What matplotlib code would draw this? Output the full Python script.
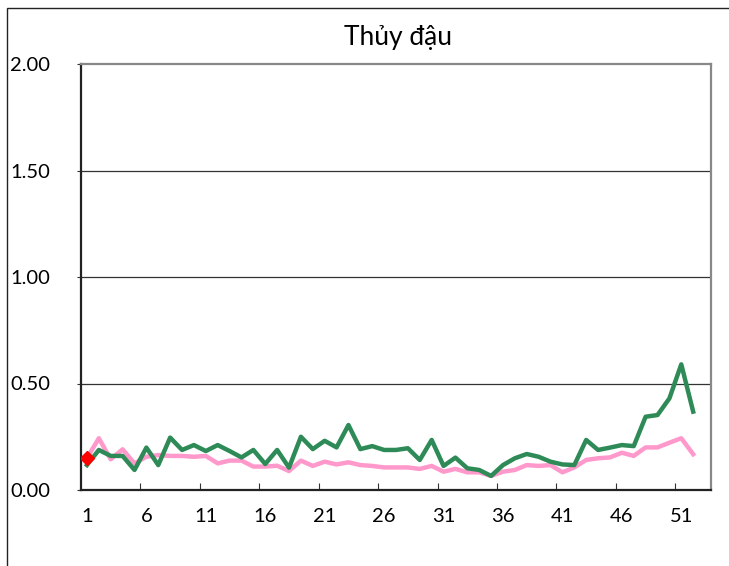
import numpy as np
import matplotlib
matplotlib.use("Agg")
import matplotlib.pyplot as plt
from matplotlib.patches import Rectangle

# tuần 1..52
weeks = np.arange(1, 53)

# năm hiện tại (xanh)
current = [0.117, 0.188, 0.160, 0.160, 0.094, 0.199, 0.117, 0.246, 0.188, 0.211,
           0.183, 0.211, 0.183, 0.153, 0.188, 0.122, 0.188, 0.105, 0.250, 0.192,
           0.231, 0.200, 0.305, 0.192, 0.206, 0.188, 0.188, 0.196, 0.141, 0.235,
           0.113, 0.152, 0.102, 0.094, 0.066, 0.117, 0.149, 0.169, 0.156, 0.133,
           0.120, 0.117, 0.235, 0.188, 0.199, 0.211, 0.206, 0.344, 0.352, 0.430,
           0.590, 0.368]

# trung bình các năm trước (hồng)
average = [0.149, 0.243, 0.144, 0.191, 0.125, 0.156, 0.164, 0.160, 0.160, 0.156,
           0.160, 0.125, 0.138, 0.138, 0.110, 0.110, 0.114, 0.089, 0.138, 0.113,
           0.133, 0.120, 0.130, 0.117, 0.113, 0.106, 0.106, 0.106, 0.099, 0.113,
           0.086, 0.099, 0.083, 0.083, 0.066, 0.086, 0.094, 0.117, 0.113, 0.117,
           0.083, 0.106, 0.141, 0.149, 0.153, 0.175, 0.160, 0.200, 0.200, 0.222,
           0.243, 0.168]

# điểm đánh dấu tuần hiện tại
mark_week = [1]
mark_value = [0.150]

xtick_labels = [str(w) for w in range(1, 53, 5)]
yticks = [0.0, 0.5, 1.0, 1.5, 2.0]

plt.rcParams['font.family'] = ['Lato', 'DejaVu Sans']

W, H = 729, 566
fig = plt.figure(figsize=(W / 100, H / 100), dpi=100)
ax = fig.add_axes([81 / W, 1 - 490 / H, (711 - 81) / W, (490 - 64) / H])

# khung ngoài (bị cắt ở phải và dưới)
fig.patches.append(Rectangle((7 / W, -0.1), 1.2, 1 - 8 / H + 0.1,
                             transform=fig.transFigure, fill=False,
                             edgecolor='#222222', linewidth=1.0))

ax.plot(weeks, average, color='#ff99cc', linewidth=3.2, solid_joinstyle='round', zorder=3)
ax.plot(weeks, current, color='#2e8b57', linewidth=3.2, solid_joinstyle='round', zorder=4)
ax.plot(mark_week, mark_value, linestyle='none', marker='D', markersize=7.5,
        color='#ff0000', zorder=5)

ax.set_xlim(0.5, 53.5)
ax.set_ylim(0, 2.0)
ax.set_yticks(yticks)
ax.set_yticklabels([f"{v:.2f}" for v in yticks], fontsize=14.5)
for y in yticks[1:-1]:
    ax.axhline(y, color='#333333', linewidth=0.9, zorder=1)

# vạch chia giữa các tuần, nhãn ở giữa tuần
ax.set_xticks(np.arange(5.5, 53, 5))
ax.set_xticks(np.arange(1, 53, 5), minor=True)
ax.set_xticklabels([])
ax.set_xticklabels(xtick_labels, minor=True, fontsize=14.5)
ax.tick_params(axis='x', which='major', direction='in', length=5, color='#333333')
ax.tick_params(axis='x', which='minor', length=0, pad=13)
ax.tick_params(axis='y', length=3, pad=19, color='#333333')

for s in ['left', 'bottom']:
    ax.spines[s].set_color('#222222')
    ax.spines[s].set_linewidth(1.6)
for s in ['top', 'right']:
    ax.spines[s].set_color('#888888')
    ax.spines[s].set_linewidth(1.6)

fig.text(398 / W, 1 - 37 / H, "Thủy đậu", ha='center', va='center', fontsize=19)

fig.savefig("out.png", dpi=100)
